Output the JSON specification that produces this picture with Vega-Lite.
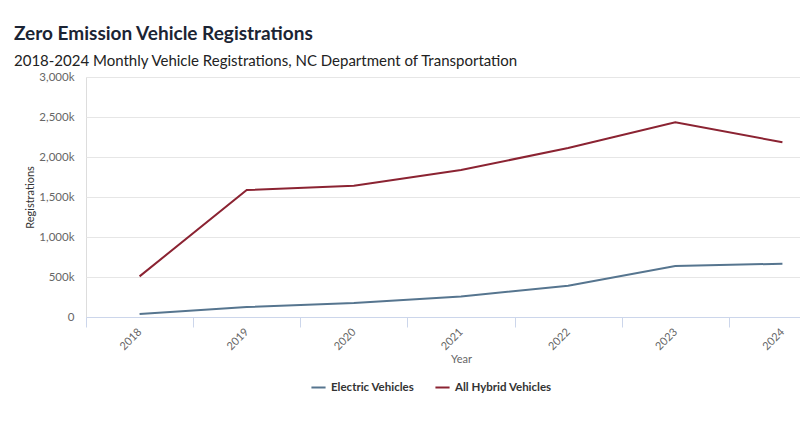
{
  "$schema": "https://vega.github.io/schema/vega-lite/v6.json",
  "width": 750,
  "height": 240,
  "autosize": "none",
  "padding": {"left": 86, "top": 77, "right": 0, "bottom": 116},
  "background": "white",
  "title": {
    "text": "Zero Emission Vehicle Registrations",
    "subtitle": "2018-2024 Monthly Vehicle Registrations, NC Department of Transportation",
    "anchor": "start",
    "frame": "group",
    "dx": -72,
    "offset": 2,
    "font": "Lato",
    "fontSize": 19,
    "fontWeight": "bold",
    "color": "#1b2434",
    "subtitleFont": "Lato",
    "subtitleFontSize": 15,
    "subtitleColor": "#222222",
    "subtitlePadding": 10
  },
  "data": {
    "values": [
      {"Year": "2018", "Type": "Electric Vehicles", "Registrations": 37000},
      {"Year": "2019", "Type": "Electric Vehicles", "Registrations": 125000},
      {"Year": "2020", "Type": "Electric Vehicles", "Registrations": 175000},
      {"Year": "2021", "Type": "Electric Vehicles", "Registrations": 256000},
      {"Year": "2022", "Type": "Electric Vehicles", "Registrations": 391000},
      {"Year": "2023", "Type": "Electric Vehicles", "Registrations": 637000},
      {"Year": "2024", "Type": "Electric Vehicles", "Registrations": 666000},
      {"Year": "2018", "Type": "All Hybrid Vehicles", "Registrations": 508000},
      {"Year": "2019", "Type": "All Hybrid Vehicles", "Registrations": 1587000},
      {"Year": "2020", "Type": "All Hybrid Vehicles", "Registrations": 1641000},
      {"Year": "2021", "Type": "All Hybrid Vehicles", "Registrations": 1837000},
      {"Year": "2022", "Type": "All Hybrid Vehicles", "Registrations": 2112000},
      {"Year": "2023", "Type": "All Hybrid Vehicles", "Registrations": 2434000},
      {"Year": "2024", "Type": "All Hybrid Vehicles", "Registrations": 2184000}
    ]
  },
  "mark": {"type": "line", "strokeWidth": 2},
  "encoding": {
    "x": {
      "field": "Year",
      "type": "ordinal",
      "title": "Year",
      "scale": {"type": "band", "paddingInner": 0, "paddingOuter": 0},
      "axis": {
        "labelAngle": -45,
        "labelAlign": "right",
        "labelBaseline": "middle",
        "labelPadding": 3,
        "labelFont": "Lato",
        "labelFontSize": 11,
        "labelColor": "#666666",
        "tickBand": "extent",
        "tickSize": 10,
        "tickColor": "#ccd6eb",
        "domainColor": "#ccd6eb",
        "grid": false,
        "titleFont": "Lato",
        "titleFontSize": 11,
        "titleFontWeight": "normal",
        "titleColor": "#666666",
        "titlePadding": 2
      }
    },
    "y": {
      "field": "Registrations",
      "type": "quantitative",
      "title": "Registrations",
      "scale": {"domain": [0, 3000000]},
      "axis": {
        "values": [0, 500000, 1000000, 1500000, 2000000, 2500000, 3000000],
        "labelExpr": "datum.value == 0 ? '0' : format(datum.value / 1000, ',') + 'k'",
        "labelFont": "Lato",
        "labelFontSize": 11.5,
        "labelColor": "#666666",
        "labelPadding": 12,
        "ticks": false,
        "domain": false,
        "gridColor": "#e6e6e6",
        "titleFont": "Lato",
        "titleFontSize": 11,
        "titleFontWeight": "normal",
        "titleColor": "#333333",
        "titleX": -56,
        "titleY": 120,
        "titleAlign": "center",
        "titleBaseline": "middle"
      }
    },
    "color": {
      "field": "Type",
      "type": "nominal",
      "sort": ["Electric Vehicles", "All Hybrid Vehicles"],
      "scale": {
        "domain": ["Electric Vehicles", "All Hybrid Vehicles"],
        "range": ["#56758f", "#8b2332"]
      },
      "legend": {
        "title": null,
        "orient": "none",
        "direction": "horizontal",
        "legendX": 224,
        "legendY": 302,
        "symbolType": "stroke",
        "symbolSize": 200,
        "symbolStrokeWidth": 2,
        "labelFont": "Lato",
        "labelFontSize": 11.5,
        "labelFontWeight": "bold",
        "labelColor": "#333333",
        "columnPadding": 16
      }
    }
  }
}
